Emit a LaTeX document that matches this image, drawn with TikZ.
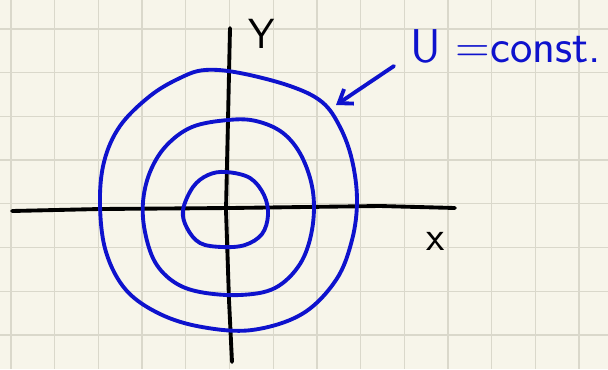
\documentclass[tikz,border=0pt]{standalone}
\usepackage{tikz}
\usetikzlibrary{arrows.meta,positioning}

\definecolor{paper}{RGB}{247,245,234}
\definecolor{gridline}{RGB}{218,216,203}
\definecolor{pen}{RGB}{14,18,205}

\begin{document}
\begin{tikzpicture}[x=0.02cm, y=-0.02cm,
    axisline/.style={line width=2.2pt, black, line cap=round, line join=round},
    contour/.style={line width=2.2pt, pen, line cap=round, line join=round},
    hand/.style={font=\sffamily\fontsize{24}{26}\selectfont, inner sep=1pt},
    arrow/.style={-{Straight Barb[length=7pt, width=10pt]}, line width=2.2pt, pen, line cap=round}]

    % Paper and grid
    \fill[paper] (0,0) rectangle (608,369);
    \useasboundingbox (0,0) rectangle (608,369);
    \foreach \i in {0,...,13}
        \draw[gridline, line width=0.7pt] ({11+43.7*\i},0) -- ({11+43.7*\i},369);
    \foreach \j in {0,...,7}
        \draw[gridline, line width=0.7pt] (0,{29+43.7*\j}) -- (608,{29+43.7*\j});

    % Axes
    \draw[axisline] (12,211) -- (100,209) -- (230,208) -- (380,206) -- (455,208);
    \draw[axisline] (230,28) -- (228,120) -- (226,210) -- (229,300) -- (232,362);

    % Level curves
    \draw[contour] plot[smooth cycle, tension=0.6] coordinates {
        (205,70) (240,73) (290,86) (322,102) (340,127) (352,160) (357,200)
        (352,240) (336,280) (302,314) (252,330) (202,327) (160,314) (126,290)
        (106,252) (100,205) (104,162) (120,126) (150,96) (180,78)};
    \draw[contour] plot[smooth cycle, tension=0.6] coordinates {
        (228,120) (256,121) (283,133) (302,157) (313,192) (312,230) (300,264)
        (275,288) (240,295) (200,292) (174,282) (155,262) (145,232) (143,202)
        (150,172) (166,146) (192,127)};
    \draw[contour] plot[smooth cycle, tension=0.6] coordinates {
        (226,172) (250,178) (264,195) (268,215) (262,234) (245,245) (222,247)
        (200,243) (187,228) (183,210) (193,187) (208,175)};

    % Labels
    \node[hand] (ylabel) at (262,34) {Y};
    \node[hand] (xlabel) at (436,241) {x};
    \node[hand, text=pen, anchor=west, font=\sffamily\fontsize{27}{29}\selectfont] (ulabel) at (408,46) {U =const.};

    % Pointer
    \coordinate (hit) at (336,105);
    \draw[arrow] (ulabel.west) ++(-14,20) coordinate (tail) (tail) -- (hit);

\end{tikzpicture}
\end{document}
